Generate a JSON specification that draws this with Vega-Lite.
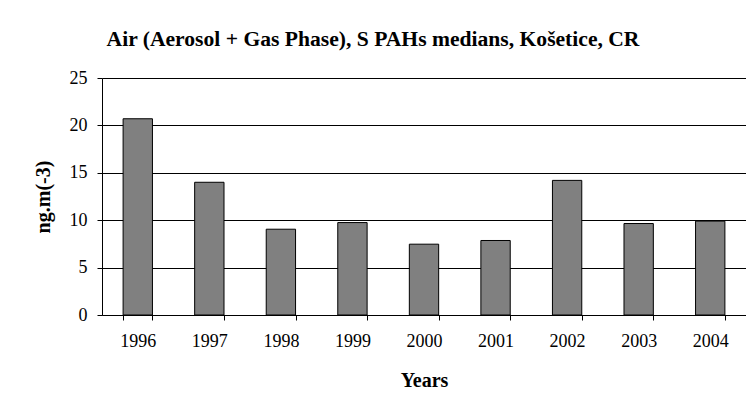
{
  "$schema": "https://vega.github.io/schema/vega-lite/v6.json",
  "autosize": "none",
  "width": 644,
  "height": 237,
  "padding": {"left": 102, "top": 78, "right": 0, "bottom": 92},
  "background": "white",
  "title": {
    "text": "Air (Aerosol + Gas Phase), S  PAHs medians, Košetice, CR",
    "font": "Liberation Serif",
    "fontSize": 21.6,
    "fontWeight": "bold",
    "color": "black",
    "anchor": "middle",
    "dx": -51,
    "offset": 18
  },
  "data": {
    "values": [
      {"year": "1996", "value": 20.7},
      {"year": "1997", "value": 14.0},
      {"year": "1998", "value": 9.05},
      {"year": "1999", "value": 9.75},
      {"year": "2000", "value": 7.47},
      {"year": "2001", "value": 7.86},
      {"year": "2002", "value": 14.2},
      {"year": "2003", "value": 9.65},
      {"year": "2004", "value": 9.9}
    ]
  },
  "mark": {"type": "bar", "fill": "#808080", "stroke": "black", "strokeWidth": 1},
  "encoding": {
    "x": {
      "field": "year",
      "type": "ordinal",
      "title": "Years",
      "scale": {"paddingInner": 0.59, "paddingOuter": 0.295},
      "axis": {
        "labelAngle": 0,
        "tickBand": "extent",
        "tickSize": 5,
        "labelPadding": 12,
        "titlePadding": 20
      }
    },
    "y": {
      "field": "value",
      "type": "quantitative",
      "title": "ng.m(-3)",
      "scale": {"domain": [0, 25], "nice": false},
      "axis": {
        "values": [0, 5, 10, 15, 20, 25],
        "tickSize": 5,
        "labelPadding": 10,
        "titlePadding": 16,
        "grid": true
      }
    }
  },
  "config": {
    "view": {"stroke": null},
    "title": {"font": "Liberation Serif"},
    "axis": {
      "domainColor": "black",
      "tickColor": "black",
      "gridColor": "black",
      "gridOpacity": 1,
      "gridWidth": 1,
      "labelFont": "Liberation Serif",
      "labelFontSize": 18,
      "labelColor": "black",
      "titleFont": "Liberation Serif",
      "titleFontSize": 20,
      "titleFontWeight": "bold",
      "titleColor": "black"
    }
  }
}
